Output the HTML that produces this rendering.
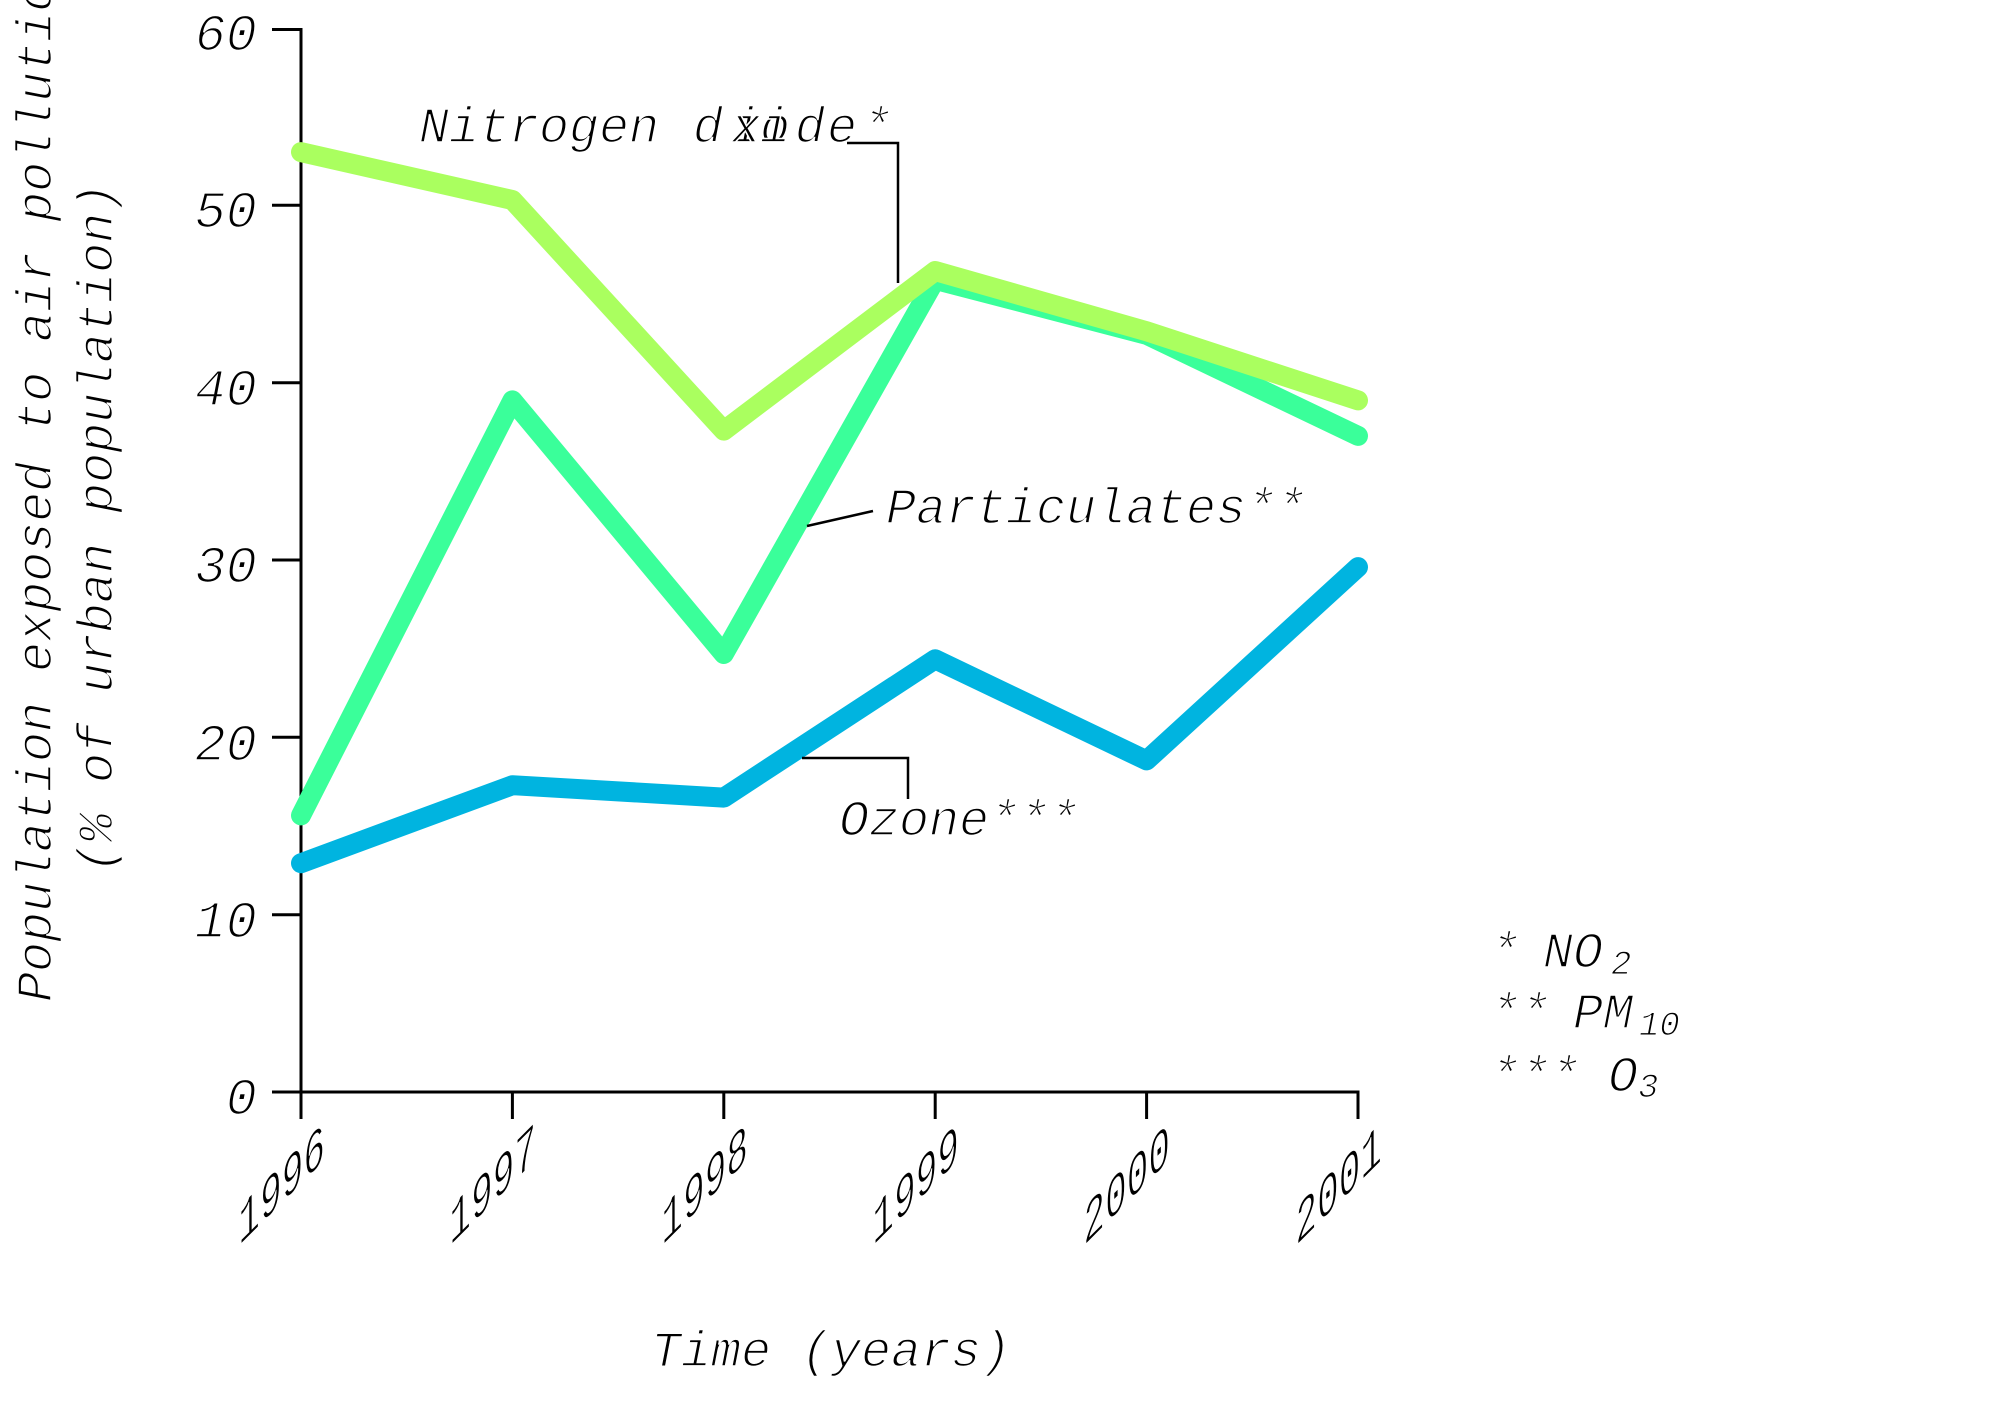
<!DOCTYPE html>
<html>
<head>
<meta charset="utf-8">
<style>
  html, body { margin:0; padding:0; background:#ffffff; }
  body { width:2005px; height:1414px; overflow:hidden; }
  svg { display:block; }
  .t { font-family:"Liberation Mono","DejaVu Sans Mono",monospace; font-style:italic; fill:#000; stroke:#fff; stroke-width:1.6; }
  .xt { font-family:"Liberation Mono","DejaVu Sans Mono",monospace; font-style:normal; fill:#000; stroke:#fff; stroke-width:0.9; }
</style>
</head>
<body>
<svg width="2005" height="1414" viewBox="0 0 2005 1414" xmlns="http://www.w3.org/2000/svg">
  <rect x="0" y="0" width="2005" height="1414" fill="#ffffff"/>

  <!-- Axes -->
  <g stroke="#000" stroke-width="3" fill="none" stroke-linecap="butt">
    <line x1="301" y1="28" x2="301" y2="1093.5"/>
    <line x1="272" y1="1092" x2="1359.5" y2="1092"/>
    <!-- y ticks -->
    <line x1="272" y1="914.7" x2="301" y2="914.7"/>
    <line x1="272" y1="737.3" x2="301" y2="737.3"/>
    <line x1="272" y1="560" x2="301" y2="560"/>
    <line x1="272" y1="382.7" x2="301" y2="382.7"/>
    <line x1="272" y1="205.3" x2="301" y2="205.3"/>
    <line x1="272" y1="29.5" x2="301" y2="29.5"/>
    <!-- x ticks -->
    <line x1="301" y1="1092" x2="301" y2="1119"/>
    <line x1="512.4" y1="1092" x2="512.4" y2="1119"/>
    <line x1="723.8" y1="1092" x2="723.8" y2="1119"/>
    <line x1="935.2" y1="1092" x2="935.2" y2="1119"/>
    <line x1="1146.6" y1="1092" x2="1146.6" y2="1119"/>
    <line x1="1358" y1="1092" x2="1358" y2="1119"/>
  </g>

  <!-- Y tick labels -->
  <g class="t" font-size="52" text-anchor="end">
    <text x="257" y="1114">0</text>
    <text x="257" y="937">10</text>
    <text x="257" y="760">20</text>
    <text x="257" y="582">30</text>
    <text x="257" y="405">40</text>
    <text x="257" y="227">50</text>
    <text x="257" y="50">60</text>
  </g>

  <!-- X tick labels (skewed) -->
  <g class="xt" font-size="41" text-anchor="end">
    <text transform="translate(325,1160) skewY(-45) scale(0.88,1.45)">1996</text>
    <text transform="translate(536,1160) skewY(-45) scale(0.88,1.45)">1997</text>
    <text transform="translate(748,1160) skewY(-45) scale(0.88,1.45)">1998</text>
    <text transform="translate(959,1160) skewY(-45) scale(0.88,1.45)">1999</text>
    <text transform="translate(1170,1160) skewY(-45) scale(0.88,1.45)">2000</text>
    <text transform="translate(1382,1160) skewY(-45) scale(0.88,1.45)">2001</text>
  </g>

  <!-- Axis titles -->
  <text class="t" font-size="50" x="651" y="1366">Time (years)</text>
  <text class="t" font-size="50" transform="translate(51,1002) rotate(-90)">Population exposed to air pollution</text>
  <text class="t" font-size="50" transform="translate(112,873) rotate(-90)">(% of urban population)</text>

  <!-- Series -->
  <g fill="none" stroke-width="20" stroke-linecap="round" stroke-linejoin="round">
    <polyline stroke="#00b4e0" points="301,863.2 512.4,785.2 723.8,797.6 935.2,659.3 1146.6,760.4 1358,567.1"/>
    <polyline stroke="#3aff9a" points="301,815.4 512.4,400.4 723.8,654 935.2,279.8 1146.6,334.8 1358,435.9"/>
    <polyline stroke="#aaff5f" points="301,152.1 512.4,200 723.8,430.6 935.2,271 1146.6,331.3 1358,400.4"/>
  </g>

  <!-- Leader lines -->
  <g stroke="#000" stroke-width="2.5" fill="none">
    <polyline points="847,143 898,143 898,283"/>
    <line x1="807" y1="526" x2="873" y2="511"/>
    <polyline points="802,758 908,758 908,799"/>
  </g>

  <!-- Annotations -->
  <text class="t" font-size="50" y="142"><tspan x="419">Nitrogen</tspan><tspan x="693">d</tspan><tspan x="731">i</tspan><tspan x="731">x</tspan><tspan x="760">o</tspan><tspan x="760">i</tspan><tspan x="795">d</tspan><tspan x="827">e</tspan><tspan x="862">*</tspan></text>
  <text class="t" font-size="50" x="886" y="523">Particulates**</text>
  <text class="t" font-size="50" x="839" y="835">Ozone***</text>

  <!-- Footnotes -->
  <g class="t" font-size="50">
    <text x="1490" y="967">*</text>
    <text x="1543" y="967">NO</text>
    <text x="1611" y="974" font-size="34" stroke-width="1.1">2</text>

    <text x="1490" y="1028">**</text>
    <text x="1573" y="1028">PM</text>
    <text x="1639" y="1035" font-size="34" stroke-width="1.1">10</text>

    <text x="1490" y="1091">***</text>
    <text x="1608" y="1091">O</text>
    <text x="1638" y="1097" font-size="34" stroke-width="1.1">3</text>
  </g>
</svg>
</body>
</html>
